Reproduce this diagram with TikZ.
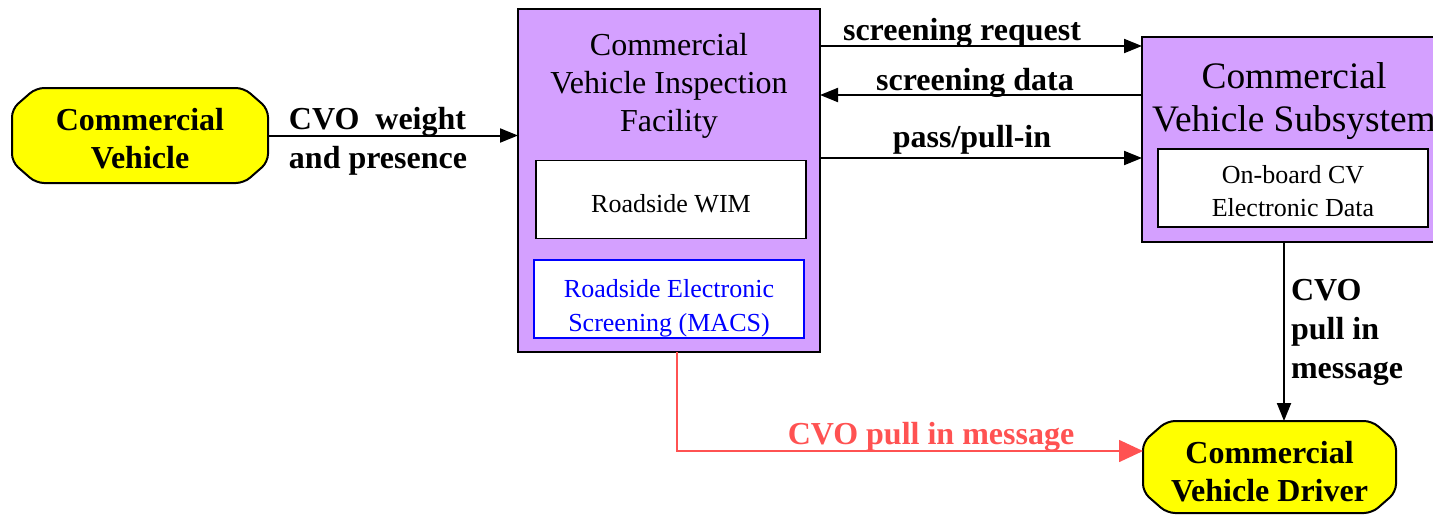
\documentclass[tikz,border=0pt]{standalone}
\usepackage{fontspec}
\setmainfont{Liberation Serif}
\usetikzlibrary{arrows.meta, backgrounds, calc}
\definecolor{facility}{RGB}{212,160,255}
\definecolor{termyellow}{RGB}{255,255,0}
\definecolor{pullred}{RGB}{255,82,82}

\begin{document}
\begin{tikzpicture}[x=0.5pt, y=-0.5pt, >={Triangle[length=9pt,width=7pt]},
    every node/.style={inner sep=0pt, outer sep=0pt},
    every label/.style={inner sep=0pt, align=center},
    block/.style={draw, line width=1pt, fill=facility, rectangle},
    inner box/.style={draw, line width=0.8pt, fill=white, minimum width=135pt,
        minimum height=39pt},
    box text/.style={font=\fontsize{13}{16.5}\selectfont},
    terminal/.style={rectangle},
    term text/.style={font=\fontsize{16}{19}\selectfont\bfseries},
    flow/.style={->, line width=1pt},
    flow label/.style={font=\fontsize{16}{19.5}\selectfont\bfseries, align=left}]
  % Frame
  \useasboundingbox (0,0) rectangle (1433,515);
  \clip (0,0) rectangle (1433,515);

  % Inspection facility
  \node[block, minimum width=151pt, minimum height=171.5pt] (cvif) at (669,180.5) {};
  \node[font=\fontsize{16}{19}\selectfont, align=center] (cviftitle) at (669,86)
    {Commercial\\Vehicle Inspection\\Facility};
  \node[inner box, label={[box text, yshift=-2pt]center:Roadside WIM}] (wim) at (671,199.5) {};
  \node[inner box, draw=blue,
    label={[font=\fontsize{13}{17}\selectfont, text=blue, yshift=-4.5pt]center:Roadside Electronic\\Screening (MACS)}]
    (macs) at (669,299) {};

  % Vehicle subsystem (runs off the right edge)
  \node[block, minimum width=160pt, minimum height=102.5pt] (cvs) at (1302,139.5) {};
  \node[font=\fontsize{18.7}{21.5}\selectfont, align=center] (cvstitle) at (1294,101)
    {Commercial\\Vehicle Subsystem};
  \node[inner box, label={[box text, yshift=-1.5pt]center:On-board CV\\Electronic Data}]
    (obd) at (1293,188) {};

  % Terminators
  \node[terminal, minimum width=128pt, minimum height=47.5pt,
    label={[term text, yshift=-1.5pt]center:Commercial\\Vehicle}] (cv) at (140,135.5) {};
  \node[terminal, minimum width=126.5pt, minimum height=46pt,
    label={[term text, yshift=-2.5pt]center:Commercial\\Vehicle Driver}] (drv) at (1269.5,467) {};
  \begin{scope}[on background layer]
    \foreach \t in {cv,drv}
      \draw[line width=1pt, fill=termyellow, rounded corners=4pt]
        ($(\t.north west)+(24,0)$) -- ($(\t.north east)+(-24,0)$)
        -- ($(\t.north east)+(0,21)$) -- ($(\t.south east)+(0,-21)$)
        -- ($(\t.south east)+(-24,0)$) -- ($(\t.south west)+(24,0)$)
        -- ($(\t.south west)+(0,-21)$) -- ($(\t.north west)+(0,21)$) -- cycle;
  \end{scope}

  % Flow heights
  \coordinate (rq) at (0,46);
  \coordinate (sd) at (0,95);
  \coordinate (pp) at (0,158);
  \coordinate (pm) at (1284,0);
  \coordinate (rd) at (677,451);

  % Flows
  \draw[flow] (cv.east) -- (cv.east -| cvif.west);
  \draw[flow] (cvif.east |- rq) -- (cvs.west |- rq);
  \draw[flow] (cvs.west |- sd) -- (cvif.east |- sd);
  \draw[flow] (cvif.east |- pp) -- (cvs.west |- pp);
  \draw[flow] (pm |- cvs.south) -- (pm |- drv.north);
  \draw[pullred, line width=0.8pt, -{Triangle[length=12pt,width=11pt]}]
    (cvif.south -| rd) |- (drv.west |- rd);

  % Flow labels
  \node[flow label] (lweight) at (378,141) {CVO\ \ weight\\and presence};
  \node[flow label] (lrequest) at (962,33) {screening request};
  \node[flow label] (ldata) at (975,83) {screening data};
  \node[flow label] (lpass) at (972,140) {pass/pull-in};
  \node[flow label, anchor=west] (lpull) at (1291,332) {CVO\\pull in\\message};
  \node[flow label, text=pullred] (lred) at (931,437) {CVO pull in message};
\end{tikzpicture}
\end{document}
